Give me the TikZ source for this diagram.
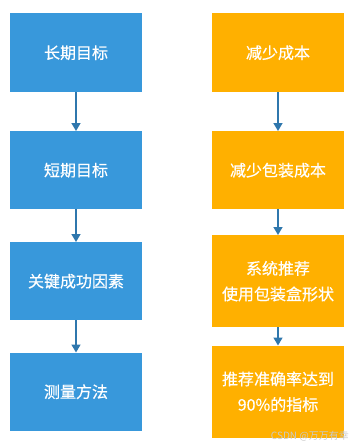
\documentclass[tikz,border=0pt]{standalone}
\usepackage{fontspec}
\setmainfont{Noto Sans CJK SC}
\newfontfamily\boxfont[FakeBold=0.5]{Noto Sans CJK SC}
\usetikzlibrary{arrows.meta}
\definecolor{boxblue}{HTML}{3898DB}
\definecolor{boxorange}{HTML}{FFB000}
\definecolor{arrowblue}{HTML}{2F77AD}
\definecolor{wmgray}{HTML}{C9C9C9}
\tikzset{
  box/.style={draw=none, minimum width=132pt, inner sep=0pt, text=white,
    font=\boxfont\fontsize{16}{25.6}\selectfont, align=center, anchor=north},
  bluebox/.style={box, fill=boxblue},
  orangebox/.style={box, fill=boxorange},
  conn/.style={draw=arrowblue, line width=1.6pt, -{Triangle[width=9pt,length=8pt]}}
}
\begin{document}
\begin{tikzpicture}[x=1pt,y=-1pt]
\useasboundingbox (0,0) rectangle (353,448);
% left column
\node[bluebox, minimum height=79pt] (l1) at (76,13) {长期目标};
\node[bluebox, minimum height=78pt] (l2) at (76,131) {短期目标};
\node[bluebox, minimum height=78pt] (l3) at (76,242) {关键成功因素};
\node[bluebox, minimum height=78pt] (l4) at (76,352.5) {测量方法};
% right column
\node[orangebox, minimum height=79pt] (r1) at (278,13) {减少成本};
\node[orangebox, minimum height=78pt] (r2) at (278,131) {减少包装成本};
\node[orangebox, minimum height=92pt] (r3) at (278,235) {系统推荐\\使用包装盒形状};
\node[orangebox, minimum height=92pt] (r4) at (278,345.5) {推荐准确率达到\\90\%的指标};
% connectors
\draw[conn] (l1) -- (l2);
\draw[conn] (l2) -- (l3);
\draw[conn] (l3) -- (l4);
\draw[conn] (r1) -- (r2);
\draw[conn] (r2) -- (r3);
\draw[conn] (r3) -- (r4);
% watermark
\node[text=wmgray, font=\fontsize{10}{12}\selectfont, inner sep=0pt, anchor=east] (wm) at (349,436) {CSDN @万万有幸};
\end{tikzpicture}
\end{document}
